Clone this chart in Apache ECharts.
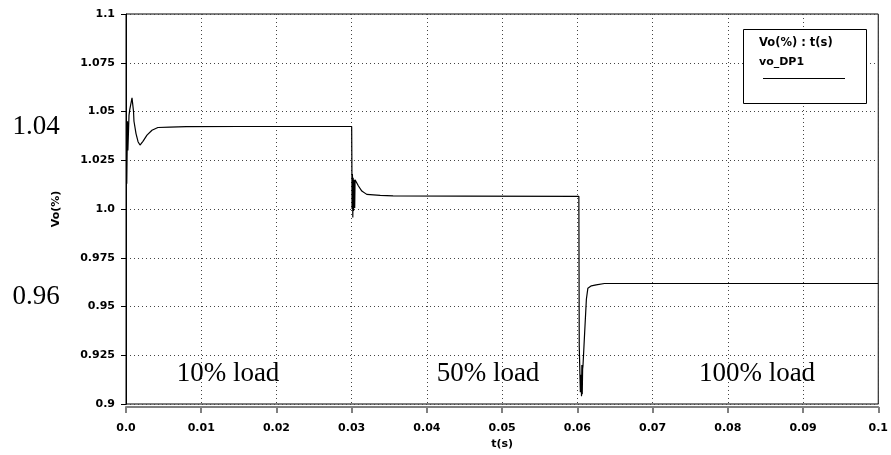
<!DOCTYPE html>
<html>
<head>
<meta charset="utf-8">
<script src="https://cdn.jsdelivr.net/npm/echarts@6/dist/echarts.min.js"></script>
<style>
html,body{margin:0;padding:0;background:#fff;}
#chart{width:891px;height:455px;}
</style>
</head>
<body>
<div id="chart"></div>
<script>
// Time (s) samples of the waveform
var tVals = [0.0001, 0.0002, 0.00025, 0.0004, 0.0005, 0.0008, 0.0010, 0.00106, 0.00133, 0.0016, 0.00186, 0.00225, 0.00279, 0.00345, 0.00424, 0.00584, 0.008, 0.015, 0.0300,
  0.03002, 0.03005, 0.0301, 0.03015, 0.0302, 0.03025, 0.0303, 0.0304, 0.03045, 0.0309, 0.03135, 0.0320, 0.0338, 0.0355, 0.0450, 0.0602,
  0.06025, 0.0604, 0.0605, 0.06055, 0.0606, 0.06065, 0.0607, 0.06075, 0.06097, 0.0612, 0.0614, 0.06186, 0.0625, 0.0636, 0.0800, 0.1000];
// Vo (%) values
var vVals = [1.013, 1.045, 1.030, 1.048, 1.051, 1.057, 1.050, 1.045, 1.0387, 1.0345, 1.0328, 1.0347, 1.0379, 1.0404, 1.0418, 1.0420, 1.0422, 1.0423, 1.0423,
  1.0286, 1.000, 1.018, 0.9957, 1.016, 0.999, 1.015, 1.0005, 1.015, 1.0118, 1.0092, 1.0075, 1.0070, 1.0067, 1.0066, 1.0065,
  0.930, 0.906, 0.915, 0.904, 0.920, 0.905, 0.918, 0.9197, 0.9366, 0.9537, 0.9594, 0.9606, 0.9611, 0.9618, 0.9618, 0.9618];
var xTickLabels = ['0.0', '0.01', '0.02', '0.03', '0.04', '0.05', '0.06', '0.07', '0.08', '0.09', '0.1'];
var yTickLabels = ['0.9', '0.925', '0.95', '0.975', '1.0', '1.025', '1.05', '1.075', '1.1'];
var seriesName = 'vo_DP1';
var legendTitle = 'Vo(%) : t(s)';
var xName = 't(s)';
var yName = 'Vo(%)';
var annotations = [
  {text: '1.04', x: 36, y: 127},
  {text: '0.96', x: 36, y: 297},
  {text: '10% load', x: 228, y: 374},
  {text: '50% load', x: 488, y: 374},
  {text: '100% load', x: 757, y: 374}
];

var data = tVals.map(function (t, i) { return [t, vVals[i]]; });
var axisFont = {fontFamily: 'DejaVu Sans', fontWeight: 'bold', fontSize: 11, color: '#000'};

var chart = echarts.init(document.getElementById('chart'));
var graphics = annotations.map(function (a) {
  return {type: 'text', x: a.x, y: a.y, z: 100,
    style: {text: a.text, fontFamily: 'Liberation Serif', fontSize: 27, fill: '#000', align: 'center', verticalAlign: 'middle'}};
});
graphics.push({type: 'rect', z: 100, shape: {x: 743.5, y: 29.5, width: 123, height: 74}, style: {fill: '#fff', stroke: '#000', lineWidth: 1}});
graphics.push({type: 'text', z: 101, x: 759, y: 43, style: {text: legendTitle, fontFamily: 'DejaVu Sans', fontWeight: 'bold', fontSize: 11.5, fill: '#000', align: 'left', verticalAlign: 'middle'}});
graphics.push({type: 'text', z: 101, x: 759, y: 62, style: {text: seriesName, fontFamily: 'DejaVu Sans', fontWeight: 'bold', fontSize: 11, fill: '#000', align: 'left', verticalAlign: 'middle'}});
graphics.push({type: 'line', z: 101, shape: {x1: 763, y1: 78.5, x2: 845, y2: 78.5}, style: {stroke: '#000', lineWidth: 1}});

chart.setOption({
  animation: false,
  backgroundColor: '#fff',
  grid: {left: 126, right: 11, top: 14, bottom: 46, show: true, borderColor: '#000', borderWidth: 1, backgroundColor: 'transparent'},
  xAxis: {
    type: 'value', min: 0, max: 0.1, interval: 0.01, offset: 3,
    name: xName, nameLocation: 'middle', nameGap: 32,
    nameTextStyle: axisFont,
    axisLine: {show: true, lineStyle: {color: '#808080', width: 2}},
    axisTick: {show: true, length: 6, lineStyle: {color: '#808080', width: 2}},
    axisLabel: Object.assign({margin: 16, showMinLabel: true, showMaxLabel: true,
      formatter: function (v) { return xTickLabels[Math.round(v / 0.01)]; }}, axisFont),
    splitLine: {show: true, lineStyle: {color: '#444', type: [1, 3], width: 1}}
  },
  yAxis: {
    type: 'value', min: 0.9, max: 1.1, interval: 0.025, offset: 2,
    name: yName, nameLocation: 'middle', nameGap: 62,
    nameTextStyle: axisFont,
    axisLine: {show: true, lineStyle: {color: '#000', width: 1}},
    axisTick: {show: true, length: 5, lineStyle: {color: '#000'}},
    axisLabel: Object.assign({margin: 9, showMinLabel: true, showMaxLabel: true,
      formatter: function (v) { return yTickLabels[Math.round((v - 0.9) / 0.025)]; }}, axisFont),
    splitLine: {show: true, lineStyle: {color: '#444', type: [1, 3], width: 1}}
  },
  series: [{
    name: seriesName, type: 'line', data: data, showSymbol: false,
    lineStyle: {color: '#000', width: 1.2}, z: 5
  }],
  graphic: graphics
});
</script>
</body>
</html>
